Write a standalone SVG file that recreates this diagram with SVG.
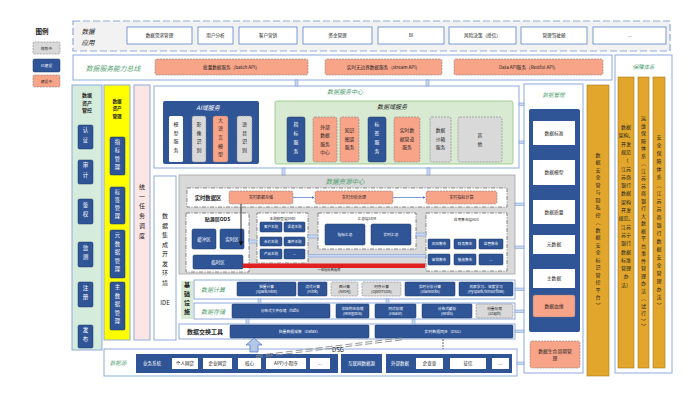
<svg xmlns="http://www.w3.org/2000/svg" width="693" height="400" viewBox="0 0 693 400">
<defs>
<style>
text{font-family:"Noto Sans CJK SC","Noto Sans",sans-serif;text-anchor:middle;fill:#222}
.frame{fill:#fff;stroke:#8eaadb;stroke-width:1}
.blue{fill:#2f5597;stroke:#1f3864;stroke-width:.5}
.sal{fill:#f8a488;stroke:#7f7f7f;stroke-width:.6;stroke-dasharray:2 1}
.gry{fill:#d9d9d9;stroke:#7f7f7f;stroke-width:.6;stroke-dasharray:2 1}
.wb{fill:#fff;stroke:#4472c4;stroke-width:.7}
.dd{fill:#fff;stroke:#595959;stroke-width:.7;stroke-dasharray:4 1.5 1 1.5}
.org{fill:#e1a62b;stroke:#a37818;stroke-width:.6}
.cn{fill:#c9d9f2;stroke:#6f93d0;stroke-width:.5}
.w{fill:#fff}
.g{fill:#4fa06f;font-style:italic}
.v{writing-mode:vertical-rl;text-orientation:upright}
.b{font-weight:bold}
</style>
<marker id="ah" viewBox="0 0 6 6" refX="5" refY="3" markerWidth="5" markerHeight="5" orient="auto"><path d="M0,0L6,3L0,6z" fill="#111"/></marker>
<marker id="ahb" viewBox="0 0 6 6" refX="5" refY="3" markerWidth="4" markerHeight="4" orient="auto"><path d="M0,0L6,3L0,6z" fill="#4472c4"/></marker>
</defs>
<rect width="693" height="400" fill="#fff"/>

<g id="legend">
<text x="42" y="34" font-size="6.5" class="b">图例</text>
<rect x="33" y="42" width="27" height="12" rx="1.5" class="gry"/><text x="46.5" y="49.5" font-size="3.8">规划中</text>
<rect x="33" y="59" width="27" height="13" rx="1.5" class="blue"/><text x="46.5" y="67" font-size="3.8" class="w">已建设</text>
<rect x="33" y="75" width="27" height="12" rx="1.5" class="sal"/><text x="46.5" y="82.5" font-size="3.8">建设中</text>
</g>

<g id="app">
<rect x="73" y="21" width="597" height="30" fill="#f2f2f2" stroke="#8eaadb" stroke-width="1.2" stroke-dasharray="7 3"/>
<text x="88" y="34" font-size="6.5" font-style="italic" fill="#404040">数据</text>
<text x="88" y="45" font-size="6.5" font-style="italic" fill="#404040">应用</text>
<g font-size="4.6">
<rect x="127" y="27" width="65" height="17" class="wb"/><text x="159.5" y="37.2">数据需求管理</text>
<rect x="198" y="27" width="35" height="17" class="wb"/><text x="215.5" y="37.2">用户分析</text>
<rect x="239" y="27" width="58" height="17" class="wb"/><text x="268" y="37.2">客户营销</text>
<rect x="303" y="27" width="69" height="17" class="wb"/><text x="337.5" y="37.2">资金管理</text>
<rect x="378" y="27" width="66" height="17" class="wb"/><text x="411" y="37.2">BI</text>
<rect x="449" y="27" width="67" height="17" class="wb"/><text x="482.5" y="37.2">风险决策（授信）</text>
<rect x="521" y="27" width="66" height="17" class="wb"/><text x="554" y="37.2">管理驾驶舱</text>
<rect x="593" y="27" width="73" height="17" class="wb"/><text x="629.5" y="37.2">...</text>
</g>
</g>

<g id="bus">
<rect x="73" y="55" width="539" height="25" class="frame"/>
<text x="113" y="70.5" font-size="6.8" class="g">数据服务能力总线</text>
<g font-size="4.6">
<rect x="155" y="59" width="153" height="16" rx="2" class="sal"/><text x="231.5" y="68.6">批量数据服务（batch API）</text>
<rect x="325" y="59" width="117" height="16" rx="2" class="sal"/><text x="383.5" y="68.6">实时无边界数据服务（stream API）</text>
<rect x="454" y="59" width="149" height="16" rx="2" class="sal"/><text x="528.5" y="68.6">Data API服务（Restful API）</text>
</g>
</g>

<g id="guarantee">
<rect x="615" y="55" width="57" height="318" class="frame"/>
<text x="643.5" y="69" font-size="5.5" class="g">保障体系</text>
<rect x="618" y="77" width="16" height="291" class="org"/>
<rect x="638" y="77" width="11" height="291" class="org"/>
<rect x="653" y="77" width="12" height="291" class="org"/>
<text font-size="5" fill="#333"><tspan x="626" y="129">数据</tspan><tspan x="626" dy="8.3">架构、</tspan><tspan x="626" dy="8.3">开发</tspan><tspan x="626" dy="8.3">规范</tspan><tspan x="626" dy="8.3">（</tspan><tspan x="626" dy="8.3">江苏</tspan><tspan x="626" dy="8.3">苏商</tspan><tspan x="626" dy="8.3">银行</tspan><tspan x="626" dy="8.3">数据</tspan><tspan x="626" dy="8.3">架构</tspan><tspan x="626" dy="8.3">开发</tspan><tspan x="626" dy="8.3">规范、</tspan><tspan x="626" dy="8.3">江苏</tspan><tspan x="626" dy="8.3">苏宁</tspan><tspan x="626" dy="8.3">银行</tspan><tspan x="626" dy="8.3">数据</tspan><tspan x="626" dy="8.3">标准</tspan><tspan x="626" dy="8.3">管理</tspan><tspan x="626" dy="8.3">办</tspan><tspan x="626" dy="8.3">法）</tspan></text>
<text x="643.5" y="223.5" font-size="5" letter-spacing="2.5" class="v" fill="#333">运维保障体系（江苏苏商银行大数据平台事件管理办法（试行））</text>
<text x="659" y="222.5" font-size="5" letter-spacing="3" class="v" fill="#333">安全保障体系（江苏苏商银行数据安全管理办法）</text>
</g>

<g id="asset-control">
<rect x="72" y="85" width="30" height="265" fill="#d5ebdc" stroke="#8eaadb" stroke-width="1"/>
<text font-size="5" class="b"><tspan x="87" y="97">数据</tspan><tspan x="87" dy="7.5">资产</tspan><tspan x="87" dy="7.5">管控</tspan></text>
<g font-size="5.5">
<rect x="78" y="125" width="15" height="24" rx="1.5" class="blue"/><text x="85.5" y="137" class="v w" letter-spacing="4">认证</text>
<rect x="78" y="160" width="15" height="24" rx="1.5" class="blue"/><text x="85.5" y="172" class="v w" letter-spacing="4">审计</text>
<rect x="78" y="199" width="15" height="25" rx="1.5" class="blue"/><text x="85.5" y="211.5" class="v w" letter-spacing="4">鉴权</text>
<rect x="78" y="242" width="15" height="25" rx="1.5" class="blue"/><text x="85.5" y="254.5" class="v w" letter-spacing="4">监测</text>
<rect x="78" y="282" width="15" height="25" rx="1.5" class="blue"/><text x="85.5" y="294.5" class="v w" letter-spacing="4">注册</text>
<rect x="78" y="325" width="15" height="23" rx="1.5" class="blue"/><text x="85.5" y="336.5" class="v w" letter-spacing="4">发布</text>
</g>
</g>

<g id="asset-mgmt">
<rect x="104" y="85" width="26" height="255" fill="#ffff00" stroke="#8eaadb" stroke-width="1"/>
<text font-size="4.6" class="b"><tspan x="117" y="103">数据</tspan><tspan x="117" dy="7.3">资产</tspan><tspan x="117" dy="7.3">管理</tspan></text>
<g font-size="5.3">
<rect x="110" y="137" width="15" height="38" rx="1.5" class="blue"/><text x="117.5" y="156" class="v w" letter-spacing="3">指标管理</text>
<rect x="110" y="187" width="15" height="37" rx="1.5" class="blue"/><text x="117.5" y="205.5" class="v w" letter-spacing="3">标签管理</text>
<rect x="110" y="230" width="15" height="48" rx="1.5" class="blue"/><text x="117.5" y="254" class="v w" letter-spacing="3.2">元数据管理</text>
<rect x="110" y="282" width="15" height="48" rx="1.5" class="blue"/><text x="117.5" y="306" class="v w" letter-spacing="3.2">主数据管理</text>
</g>
</g>

<g id="scheduler">
<rect x="134" y="85" width="16" height="255" fill="#fbe5e5" stroke="#8eaadb" stroke-width="1"/>
<text x="142" y="213" font-size="6" letter-spacing="3.8" class="v">统一任务调度</text>
</g>

<g id="ide">
<rect x="154" y="176" width="22" height="164" class="frame"/>
<text x="165" y="251" font-size="6" letter-spacing="3.5" class="v">数据集成开发环境</text>
<text x="165" y="305" font-size="6">IDE</text>
</g>

<g id="service-center">
<rect x="154" y="86" width="365" height="82" class="frame"/>
<text x="345" y="93.5" font-size="6" class="g">数据服务中心</text>
</g>

<g id="ai-service">
<rect x="163" y="101" width="96" height="63" rx="2" fill="#2f5597"/>
<text x="208" y="110" font-size="6" font-style="italic" class="w">AI域服务</text>
<g font-size="5">
<rect x="169" y="116" width="14" height="46" rx="1.5" fill="#fff"/><text x="176" y="139" class="v" letter-spacing="3.7">模型服务</text>
<rect x="192" y="116" width="14" height="46" rx="2" class="gry"/><text x="199" y="139" class="v" letter-spacing="3.7">影像识别</text>
<rect x="213" y="116" width="15" height="46" rx="2" class="sal"/><text x="220.5" y="139" class="v" letter-spacing="3.7">大语言模型</text>
<rect x="237" y="116" width="15" height="46" rx="2" class="gry"/><text x="244.5" y="139" class="v" letter-spacing="3.7">语音识别</text>
</g>
</g>

<g id="domain-service">
<rect x="275" y="101" width="238" height="63" rx="2" fill="#d9ead3" stroke="#93c47d" stroke-width=".8"/>
<text x="392" y="109" font-size="6" font-style="italic" fill="#333">数据域服务</text>
<g font-size="4.8">
<rect x="287" y="117" width="18" height="45" rx="2" class="blue"/><text x="296" y="139.5" class="v w" letter-spacing="4">指标服务</text>
<rect x="313" y="117" width="24" height="45" rx="2" class="sal"/><text><tspan x="325" y="129">外部</tspan><tspan x="325" dy="8.3">数据</tspan><tspan x="325" dy="8.3">服务</tspan><tspan x="325" dy="8.3">中心</tspan></text>
<rect x="340" y="117" width="19" height="45" rx="2" class="sal"/><text><tspan x="349.5" y="132">知识</tspan><tspan x="349.5" dy="8.5">图谱</tspan><tspan x="349.5" dy="8.5">服务</tspan></text>
<rect x="368" y="117" width="18" height="45" rx="2" class="blue"/><text x="377" y="139.5" class="v w" letter-spacing="4">标签服务</text>
<rect x="394" y="117" width="26" height="45" rx="2" class="sal"/><text><tspan x="407" y="132">实时数</tspan><tspan x="407" dy="8.5">据管道</tspan><tspan x="407" dy="8.5">服务</tspan></text>
<rect x="430" y="117" width="21" height="45" rx="2" class="gry"/><text><tspan x="440.5" y="132">数据</tspan><tspan x="440.5" dy="8.5">沙箱</tspan><tspan x="440.5" dy="8.5">服务</tspan></text>
<rect x="458" y="117" width="44" height="45" rx="2" class="gry"/><text><tspan x="480" y="137">其</tspan><tspan x="480" dy="9">他</tspan></text>
</g>
</g>

<g id="resource-center">
<rect x="179" y="175" width="336" height="99" fill="#d9d9d9" stroke="#a6a6a6" stroke-width=".8"/>
<text x="345" y="184" font-size="6.5" class="g">数据资源中心</text>
</g>

<g id="realtime-zone">
<rect x="187" y="188" width="320" height="19" class="dd"/>
<text x="208" y="199.6" font-size="5.3" class="b">实时数据区</text>
<g font-size="4">
<rect x="229" y="191" width="64" height="13" rx="2" class="sal"/><text x="261" y="199">实时数据存储</text>
<rect x="315" y="191" width="78" height="13" rx="2" class="sal"/><text x="354" y="199">实时分析处理</text>
<rect x="426" y="191" width="71" height="13" rx="2" class="sal"/><text x="461.5" y="199">实时指标计算</text>
</g>
</g>

<g id="ods">
<rect x="186" y="213" width="63" height="59" class="dd"/>
<text x="217.5" y="220.5" font-size="5" class="b">贴源层ODS</text>
<g font-size="4.5">
<rect x="192" y="229" width="24" height="20" rx="1.5" class="blue"/><text x="204" y="240.5" class="w">缓冲区</text>
<rect x="220" y="229" width="24" height="20" rx="1.5" class="blue"/><text x="232" y="240.5" class="w">实时区</text>
<rect x="193" y="255" width="50" height="14" rx="1.5" class="blue"/><text x="218" y="263.5" class="w">临时区</text>
</g>
</g>

<g id="dwd">
<rect x="257" y="213" width="51" height="50" class="dd"/>
<text x="282.5" y="219.5" font-size="3.6">主题模型层DMD</text>
<g font-size="3.5">
<rect x="260" y="222" width="22" height="10" rx="1" class="blue"/><text x="271" y="228.2" class="w">客户主题</text>
<rect x="284" y="222" width="21" height="10" rx="1" class="blue"/><text x="294.5" y="228.2" class="w">渠道主题</text>
<rect x="260" y="237" width="22" height="9" rx="1" class="blue"/><text x="271" y="242.7" class="w">合约主题</text>
<rect x="284" y="237" width="21" height="9" rx="1" class="blue"/><text x="294.5" y="242.7" class="w">事件主题</text>
<rect x="260" y="249" width="22" height="10" rx="1" class="blue"/><text x="271" y="255.2" class="w">产品主题</text>
<rect x="284" y="249" width="21" height="10" rx="1" class="blue"/><text x="294.5" y="255.2" class="w">...</text>
</g>
</g>

<g id="dws">
<rect x="318" y="213" width="98" height="36" class="dd"/>
<text x="367" y="219.5" font-size="3.6">汇总层SDM</text>
<g font-size="3.8">
<rect x="325" y="224" width="40" height="21" rx="1.5" class="blue"/><text x="345" y="235.8" class="w">指标汇总</text>
<rect x="371" y="224" width="40" height="21" rx="1.5" class="blue"/><text x="391" y="235.8" class="w">实时汇总</text>
</g>
</g>

<g id="ads">
<rect x="426" y="213" width="81" height="58" class="dd"/>
<text x="466.5" y="221" font-size="3.6">应用集市层ADS</text>
<g font-size="3.6">
<rect x="428" y="239" width="22" height="10" rx="1" class="blue"/><text x="439" y="245.3" class="w">风险集市</text>
<rect x="454" y="239" width="22" height="10" rx="1" class="blue"/><text x="465" y="245.3" class="w">财务集市</text>
<rect x="479" y="239" width="24" height="10" rx="1" class="blue"/><text x="491" y="245.3" class="w">监管集市</text>
<rect x="428" y="254" width="22" height="11" rx="1" class="blue"/><text x="439" y="260.8" class="w">营销集市</text>
<rect x="454" y="254" width="22" height="11" rx="1" class="blue"/><text x="465" y="260.8" class="w">催收集市</text>
<rect x="479" y="254" width="24" height="11" rx="1" class="blue"/><text x="491" y="260.8" class="w">...</text>
</g>
</g>

<g id="infra-label">
<rect x="181" y="281" width="12" height="38" fill="#d9ead3"/>
<text x="187" y="300" font-size="6" letter-spacing="3" class="v b">基础设施</text>
</g>

<g id="compute">
<rect x="194" y="280" width="321" height="19" class="frame" stroke="#4472c4"/>
<text x="213" y="292" font-size="6" class="g">数据计算</text>
<g font-size="3.7">
<rect x="237" y="282" width="59" height="14" rx="1" class="blue"/><text class="w"><tspan x="266.5" y="288">批量计算</tspan><tspan x="266.5" dy="5">(Spark/Hive)</tspan></text>
<rect x="298" y="282" width="29" height="14" rx="1" class="blue"/><text class="w"><tspan x="312.5" y="288">流式计算</tspan><tspan x="312.5" dy="5">(Flink)</tspan></text>
<rect x="331" y="282" width="27" height="14" rx="1.5" class="gry"/><text><tspan x="344.5" y="288">图计算</tspan><tspan x="344.5" dy="5">(Neo4j)</tspan></text>
<rect x="362" y="282" width="39" height="14" rx="1.5" class="gry"/><text><tspan x="381.5" y="288">时序计算</tspan><tspan x="381.5" dy="5">(OpenTSDB)</tspan></text>
<rect x="405" y="282" width="50" height="14" rx="1" class="blue"/><text class="w"><tspan x="430" y="288">实时分析计算</tspan><tspan x="430" dy="5">(StarRocks)</tspan></text>
<rect x="459" y="282" width="54" height="14" rx="1" class="blue"/><text class="w"><tspan x="486" y="288">机器学习、深度学习</tspan><tspan x="486" dy="5">(PySpark/tensorflow)</tspan></text>
</g>
</g>

<g id="storage">
<rect x="194" y="303" width="321" height="16" class="frame" stroke="#4472c4"/>
<text x="213" y="313.5" font-size="6" class="g">数据存储</text>
<g font-size="3.7">
<rect x="232" y="304" width="98" height="14" rx="1" class="blue"/><text x="281" y="312.4" class="w">分布式文件存储（hdfs）</text>
<rect x="336" y="304" width="33" height="14" rx="1" class="blue"/><text class="w"><tspan x="352.5" y="310">非结构化存储</tspan><tspan x="352.5" dy="5">(MongoDB)</tspan></text>
<rect x="375" y="304" width="41" height="14" rx="1" class="blue"/><text class="w"><tspan x="395.5" y="310">列式存储</tspan><tspan x="395.5" dy="5">(HBase)</tspan></text>
<rect x="422" y="304" width="50" height="14" rx="1" class="blue"/><text class="w"><tspan x="447" y="310">分布式缓存</tspan><tspan x="447" dy="5">(Redis)</tspan></text>
<rect x="476" y="304" width="37" height="14" rx="1.5" class="gry"/><text><tspan x="494.5" y="310">向量存储</tspan><tspan x="494.5" dy="5">(Graph)</tspan></text>
</g>
</g>

<g id="exchange">
<rect x="179" y="324" width="336" height="15" class="frame" stroke="#4472c4"/>
<text x="205" y="334" font-size="6" class="b">数据交换工具</text>
<g font-size="3.9">
<rect x="230" y="325" width="139" height="13" rx="1" class="blue"/><text x="299.5" y="333" class="w">批量数据采集（DataX）</text>
<rect x="375" y="325" width="138" height="13" rx="1" class="blue"/><text x="444" y="333" class="w">实时数据同步（DSG）</text>
</g>
</g>

<g id="datasource">
<rect x="104" y="349" width="413" height="27" class="frame"/>
<text x="118" y="364.5" font-size="5.5" class="g">数据源</text>
<rect x="136" y="354" width="202" height="19" fill="#2f5597"/>
<text x="152" y="365" font-size="4.5" class="w">业务系统</text>
<g font-size="4.6">
<rect x="172" y="358" width="26" height="11" fill="#fff"/><text x="185" y="365.3">个人网贷</text>
<rect x="203" y="358" width="29" height="11" fill="#fff"/><text x="217.5" y="365.3">企业网贷</text>
<rect x="238" y="358" width="23" height="11" fill="#fff"/><text x="249.5" y="365.3">核心</text>
<rect x="266" y="358" width="40" height="11" fill="#fff"/><text x="286" y="365.3">APP/小程序</text>
<rect x="310" y="358" width="20" height="11" fill="#fff"/><text x="320" y="365.3">...</text>
</g>
<rect x="341" y="354" width="41" height="19" fill="#2f5597"/>
<text x="361.5" y="365" font-size="4.5" class="w">互联网数据源</text>
<rect x="386" y="354" width="126" height="19" fill="#2f5597"/>
<text x="400" y="365" font-size="4.5" class="w">外部数据</text>
<g font-size="4.6">
<rect x="416" y="358" width="27" height="11" fill="#fff"/><text x="429.5" y="365.3">企查查</text>
<rect x="450" y="358" width="36" height="11" fill="#fff"/><text x="468" y="365.3">征信</text>
<rect x="492" y="358" width="17" height="11" fill="#fff"/><text x="500.5" y="365.3">...</text>
</g>
</g>

<g id="data-mgmt">
<rect x="524" y="84" width="59" height="289" class="frame"/>
<text x="553.5" y="97" font-size="5.5" class="g">数据管理</text>
<rect x="529" y="109" width="51" height="223" rx="2" fill="#2f5597"/>
<g font-size="4.8">
<rect x="533" y="121" width="42" height="24" fill="#fff"/><text x="554" y="134.7">数据标准</text>
<rect x="533" y="160" width="42" height="25" fill="#fff"/><text x="554" y="174.2">数据模型</text>
<rect x="533" y="200" width="42" height="24" fill="#fff"/><text x="554" y="213.7">数据质量</text>
<rect x="533" y="235" width="42" height="19" fill="#fff"/><text x="554" y="246.2">元数据</text>
<rect x="533" y="269" width="42" height="19" fill="#fff"/><text x="554" y="280.2">主数据</text>
<rect x="533" y="295" width="42" height="22" rx="2" class="sal"/><text x="554" y="307.7">数据血缘</text>
<rect x="530" y="341" width="50" height="27" rx="2" class="sal"/><text><tspan x="555" y="352.5">数据生命周期管</tspan><tspan x="555" dy="7">理</tspan></text>
</g>
</g>

<g id="data-security">
<rect x="587" y="85" width="22" height="291" class="org"/>
<text x="598" y="231" font-size="5" letter-spacing="2.5" class="v" fill="#333">数据安全管与隐私控（数据安全标识管控平台）</text>
</g>

<g id="connectors">
<line x1="293" y1="197.5" x2="314" y2="197.5" stroke="#4472c4" stroke-width=".7" marker-end="url(#ahb)"/>
<line x1="393" y1="197.5" x2="425" y2="197.5" stroke="#4472c4" stroke-width=".7" marker-end="url(#ahb)"/>
<line x1="241" y1="204" x2="241" y2="245" stroke="#111" stroke-width=".9" marker-end="url(#ah)"/>
<rect x="249" y="240" width="8" height="3" class="cn"/>
<rect x="308" y="235" width="10" height="3" class="cn"/>
<rect x="416" y="233" width="10" height="3" class="cn"/>
<rect x="308" y="254.5" width="118" height="2.5" class="cn"/>
<rect x="243" y="263.5" width="182" height="4.5" fill="#e02020"/>
<text x="329" y="270.5" font-size="3.3">一级指标数据库</text>
<rect x="295" y="80" width="3" height="6" class="cn"/>
<rect x="426" y="80" width="3" height="6" class="cn"/>
<rect x="282" y="168" width="3" height="7" class="cn"/>
<rect x="427" y="168" width="3" height="7" class="cn"/>
<rect x="258" y="299" width="3" height="4" class="cn"/>
<rect x="386" y="299" width="3" height="4" class="cn"/>
<rect x="246" y="319" width="3" height="5" class="cn"/>
<rect x="412" y="319" width="3" height="5" class="cn"/>
<rect x="519" y="103" width="5" height="2.5" class="cn"/>
<rect x="519" y="141" width="5" height="2.5" class="cn"/>
<rect x="515" y="203" width="9" height="2.5" class="cn"/>
<rect x="515" y="246" width="9" height="2.5" class="cn"/>
<rect x="515" y="288" width="9" height="2.5" class="cn"/>
<rect x="515" y="310" width="9" height="2.5" class="cn"/>
<rect x="515" y="330" width="9" height="2.5" class="cn"/>
<rect x="517" y="362" width="7" height="2.5" class="cn"/>
<line x1="443" y1="339" x2="443" y2="349" stroke="#808080" stroke-width="1.2" stroke-dasharray="2 1"/>
<polygon points="254,338 262,345 258,345 258,352 250,352 250,345 246,345" fill="#b4c7e7" stroke="#4472c4" stroke-width=".7"/>
<path d="M256,355.5L405,337.5M256,357.5L405,339.5" stroke="#8c8c8c" stroke-width=".9" stroke-dasharray="7 3" fill="none"/>
<text x="338" y="352" font-size="6" fill="#555">DSG</text>
</g>
</svg>
